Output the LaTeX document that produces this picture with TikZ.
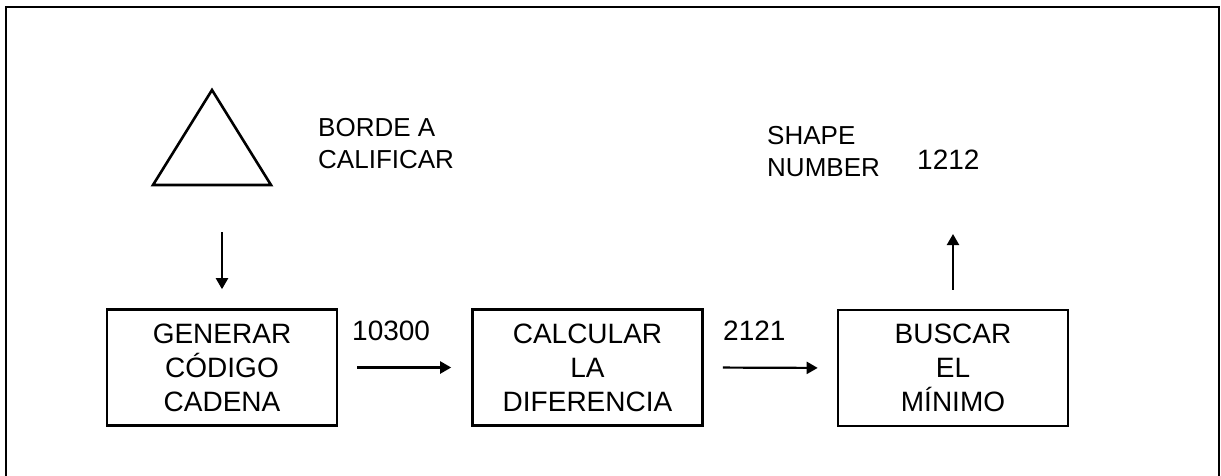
\documentclass[tikz,border=0pt]{standalone}
\usepackage{fontspec}
\setmainfont{Liberation Sans}
\usetikzlibrary{arrows.meta}
\begin{document}
\begin{tikzpicture}[x=1pt,y=-1pt,
  stepbox/.style={draw,line width=2.6pt,minimum width=230pt,minimum height=116pt,
    inner sep=0pt,align=center,font=\fontsize{28}{34}\selectfont},
  flow/.style={line width=2.2pt,-{Triangle[length=11pt,width=12pt]}},
  sidelabel/.style={inner sep=0pt,align=left,font=\fontsize{26}{32}\selectfont},
  numlabel/.style={inner sep=0pt,anchor=base west,font=\fontsize{28}{34}\selectfont}]
\useasboundingbox (0,0) rectangle (1221,476);
\fill[white] (0,0) rectangle (1221,476);
% outer frame (open at the bottom edge of the page)
\draw[line width=2.4pt] (6,490) -- (6,7) -- (1219,7) -- (1219,490);
% edge to be graded
\draw[line width=2.6pt,line join=miter] (212,90) -- (271,185) -- (153,185) -- cycle;
\node[sidelabel,anchor=north west] (borde) at (318,118) {BORDE A\\CALIFICAR};
% processing chain
\node[stepbox] (b1) at (222,367.5) {GENERAR\\CÓDIGO\\CADENA};
\node[stepbox] (b2) at (587.5,367.5) {CALCULAR\\LA\\DIFERENCIA};
\node[stepbox] (b3) at (953,368) {BUSCAR\\EL\\MÍNIMO};
\coordinate (in) at (222,232);
\coordinate (out) at (953,234);
\draw[flow,shorten >=19pt] (in) -- (b1.north);
\draw[flow,shorten <=19pt,shorten >=20pt] (b1.east) -- (b2.west);
\draw[flow,shorten <=19pt,shorten >=19pt] (b2.east) -- (b3.west);
\draw[flow,shorten <=19pt] (b3.north) -- (out);
\node[numlabel] (n1) at (352,340) {10300};
\node[numlabel] (n2) at (723,340) {2121};
\node[sidelabel,anchor=north west] (shape) at (767,126) {SHAPE\\NUMBER};
\node[numlabel] (n3) at (917,170) {1212};
\end{tikzpicture}
\end{document}
